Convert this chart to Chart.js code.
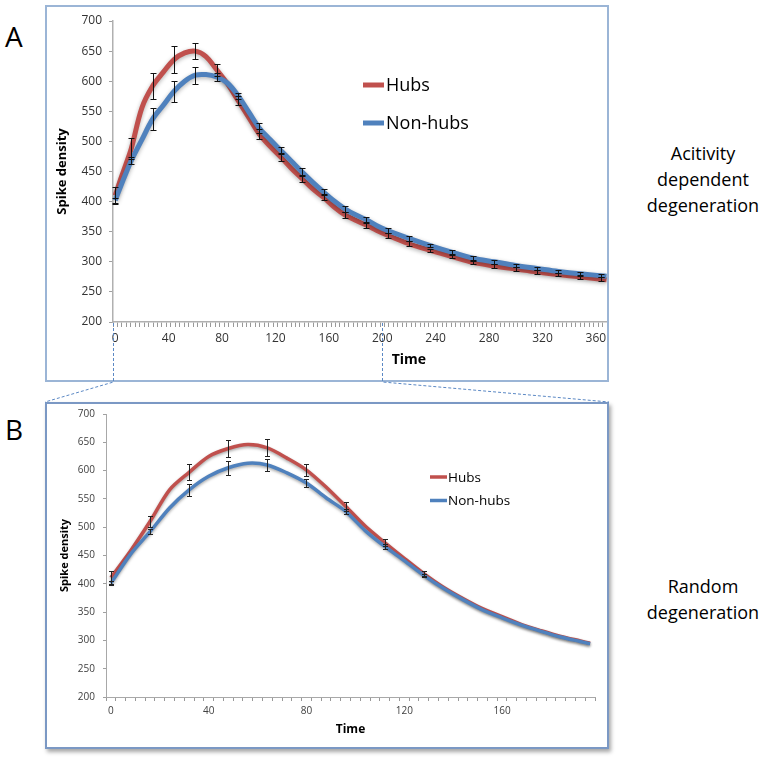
<!DOCTYPE html>
<html><head><meta charset="utf-8">
<script src="https://cdn.jsdelivr.net/npm/chart.js@4.4.1/dist/chart.umd.min.js"></script>
<style>
html,body{margin:0;padding:0;background:#fff;}
body{width:770px;height:762px;position:relative;overflow:hidden;font-family:"Open Sans",sans-serif;}
.frame{position:absolute;box-sizing:border-box;background:#fff;}
#frameA{left:45px;top:5px;width:564px;height:377px;border:2px solid #9bb5d6;}
#frameB{left:45px;top:402px;width:564px;height:347px;border:2px solid #7b98c4;box-shadow:2px 3px 4px rgba(0,0,0,0.35);}
canvas{display:block;}
.panel{position:absolute;font-size:28px;color:#000;line-height:1;}
.side{position:absolute;width:140px;text-align:center;font-size:18px;line-height:26px;color:#000;}
#overlay{position:absolute;left:0;top:0;pointer-events:none;z-index:5;}
</style></head>
<body>
<div class="panel" style="left:5px;top:22px">A</div>
<div class="panel" style="left:5px;top:415px">B</div>
<div id="frameA" class="frame"><canvas id="chartA" width="560" height="373"></canvas></div>
<div id="frameB" class="frame"><canvas id="chartB" width="560" height="343"></canvas></div>
<div class="side" style="left:633px;top:140px">Acitivity<br>dependent<br>degeneration</div>
<div class="side" style="left:633px;top:573px">Random<br>degeneration</div>
<canvas id="overlay" width="770" height="762"></canvas>
<script>
// ---------- Panel A data (activity dependent degeneration) ----------
const timeA = [0,4,8,12,20,28,36,44,52,60,68,76,84,92,100,108,116,124,132,140,148,156,164,172,180,188,196,204,220,236,252,268,284,300,316,332,348,364,368];
const hubsA = [410,437,462,488,556,592,615,636,647,650,641,619,596,568,540,512,492,474,455,438,421,407,391,378,369,361,352,344,330,319,309,299,293,288,283,279,275,271,270];
const nonHubsA = [402,425,447,468,503,537,560,583,600,610,611,607,597,576,549,522,503,485,467,449,432,416,401,388,378,370,360,352,339,327,316,306,300,294,289,284,280,277,276];
const errTimeA = [0,12,28,44,60,76,92,108,124,140,156,172,188,204,220,236,252,268,284,300,316,332,348,364];
const hubsErrA = [14,18,22,23,13,10,8,8,6,6,5,5,5,4,4,3,3,3,3,3,3,3,3,3];
const nonHubsErrA = [4,6,18,18,14,6,5,8,6,6,5,5,5,4,4,3,3,3,3,3,3,3,3,3];
const xTicksA = [0,40,80,120,160,200,240,280,320,360];
const zoomRangeA = [-2,200];

// ---------- Panel B data (random degeneration) ----------
const timeB = [0,8,16,24,32,40,48,56,64,72,80,88,96,104,112,120,128,136,144,152,160,168,176,184,192,196];
const hubsB = [411,458,510,566,597,625,639,646,640,622,601,571,537,502,473,445,418,394,374,356,342,328,317,307,299,295];
const nonHubsB = [401,452,492,534,566,590,605,613,610,596,578,552,528,494,466,441,415,392,372,354,340,327,316,306,298,294];
const errTimeB = [0,16,32,48,64,80,96,112,128];
const hubsErrB = [12,9,14,15,15,10,8,6,4];
const nonHubsErrB = [4,4,10,12,10,7,5,5,3];
const xTicksB = [0,40,80,120,160];

const yTicks = [200,250,300,350,400,450,500,550,600,650,700];
const seriesLabels = ['Hubs','Non-hubs'];
const RED = '#c0504d', BLUE = '#4f81bd';

// ---------- plugins ----------
const shadowPlugin = {
  id:'lineShadow',
  beforeDatasetDraw(chart,args,o){const c=chart.ctx;c.save();c.shadowColor=o.color;c.shadowBlur=o.blur;c.shadowOffsetX=o.dx;c.shadowOffsetY=o.dy;},
  afterDatasetDraw(chart){chart.ctx.restore();}
};
const errorBarPlugin = {
  id:'errorBars',
  afterDatasetsDraw(chart,args,o){
    const {ctx, scales:{x,y}} = chart;
    ctx.save(); ctx.strokeStyle=o.color; ctx.lineWidth=o.width;
    chart.data.datasets.forEach(ds=>{
      if(!ds.errTimes) return;
      ds.errTimes.forEach((t,i)=>{
        const pt = ds.data.find(p=>p.x===t); if(!pt) return;
        const e = ds.errValues[i];
        const px = Math.round(x.getPixelForValue(t))+0.5;
        const y1 = Math.round(y.getPixelForValue(pt.y+e))+0.5, y2 = Math.round(y.getPixelForValue(pt.y-e))+0.5;
        ctx.beginPath();
        ctx.moveTo(px,y1); ctx.lineTo(px,y2);
        ctx.moveTo(px-o.cap,y1); ctx.lineTo(px+o.cap,y1);
        ctx.moveTo(px-o.cap,y2); ctx.lineTo(px+o.cap,y2);
        ctx.stroke();
      });
    });
    ctx.restore();
  }
};
const legendPlugin = {
  id:'insideLegend',
  afterDraw(chart,args,o){
    const {ctx, chartArea:a} = chart;
    ctx.save(); ctx.font=o.font; ctx.textBaseline='middle'; ctx.fillStyle=o.textColor; ctx.lineCap='butt';
    chart.data.datasets.forEach((ds,i)=>{
      const y=a.top+o.y+i*o.gap, x0=a.left+o.x;
      ctx.strokeStyle=ds.borderColor; ctx.lineWidth=o.lineWidth;
      ctx.beginPath(); ctx.moveTo(x0,y); ctx.lineTo(x0+o.lineLen,y); ctx.stroke();
      ctx.fillText(ds.label, x0+o.lineLen+o.textGap, y+o.textDy);
    });
    ctx.restore();
  }
};
const freeTitlePlugin = {
  id:'freeTitle',
  afterDraw(chart,args,o){
    if(!o.text) return;
    const {ctx, chartArea:a} = chart;
    ctx.save(); ctx.font=o.font; ctx.fillStyle=o.color; ctx.textAlign='center'; ctx.textBaseline='middle';
    ctx.fillText(o.text, a.left+o.fx*(a.right-a.left), a.bottom+o.dy); ctx.restore();
  }
};

function pts(ts, vs){ return ts.map((t,i)=>({x:t,y:vs[i]})); }
// category-boundary tick marks (unlabelled) plus labelled ticks (major)
function categoryTicks(first, step, labels){
  return function(s){
    const arr=[];
    for(let k=0;k<1000;k++){const v=first+k*step; if(v>s.max+1e-6) break; arr.push({value:v, major:false});}
    labels.forEach(v=>arr.push({value:v, major:true}));
    arr.sort((a,b)=>a.value-b.value);
    s.ticks=arr;
  };
}
const labelOnlyMajor = function(value, index, ticks){ return ticks[index].major ? String(value) : ''; };
function minorColor(col){ return c => (c.tick && c.tick.major) ? 'rgba(0,0,0,0)' : col; }

// ---------- Chart A ----------
const chartA = new Chart(document.getElementById('chartA'), {
  type:'line',
  data:{datasets:[
    {label:seriesLabels[0], data:pts(timeA,hubsA), borderColor:RED, borderWidth:5, pointRadius:0, tension:0.35, order:2, errTimes:errTimeA, errValues:hubsErrA},
    {label:seriesLabels[1], data:pts(timeA,nonHubsA), borderColor:BLUE, borderWidth:5, pointRadius:0, tension:0.35, order:1, errTimes:errTimeA, errValues:nonHubsErrA}
  ]},
  options:{
    responsive:false, animation:false, events:[],
    layout:{padding:{top:14,left:0,right:0,bottom:0}},
    plugins:{
      legend:{display:false}, tooltip:{enabled:false},
      lineShadow:{color:'rgba(0,0,0,0.3)', blur:4, dx:0, dy:1.5},
      errorBars:{color:'#111', width:1, cap:3},
      insideLegend:{x:250, y:64, gap:38, lineLen:21, lineWidth:5, textGap:2, textDy:1, font:'18px "Open Sans"', textColor:'#000'},
      freeTitle:{text:'Time', font:'bold 14px "Open Sans"', color:'#000', fx:0.599, dy:38.5}
    },
    scales:{
      x:{type:'linear', min:-5/3, max:368.33,
        afterBuildTicks:categoryTicks(-5/3, 10/3, xTicksA),
        afterFit:s=>{s.height=58; s.paddingLeft=0; s.paddingRight=0;},
        grid:{display:true, drawOnChartArea:false, drawTicks:true, tickLength:5, color:minorColor('#999999'), tickColor:minorColor('#999999'), lineWidth:1},
        border:{display:true, color:'#b0b0b0', width:1.5},
        ticks:{padding:4, autoSkip:false, maxRotation:0, color:'#333', font:{family:'Open Sans', size:12}, callback:labelOnlyMajor}
      },
      y:{min:200, max:700,
        afterBuildTicks:s=>{s.ticks=yTicks.map(v=>({value:v}));},
        afterFit:s=>{s.width=66; s.paddingTop=0; s.paddingBottom=0;},
        grid:{display:true, drawOnChartArea:false, drawTicks:true, tickLength:4, color:'#a0a0a0'},
        border:{display:true, color:'#b0b0b0', width:1.5},
        ticks:{padding:7, color:'#333', font:{family:'Open Sans', size:12}},
        title:{display:true, text:'Spike density', color:'#000', padding:7, font:{family:'Open Sans', size:13, weight:'bold'}}
      }
    }
  },
  plugins:[shadowPlugin, errorBarPlugin, legendPlugin, freeTitlePlugin]
});

// ---------- Chart B ----------
const chartB = new Chart(document.getElementById('chartB'), {
  type:'line',
  data:{datasets:[
    {label:seriesLabels[0], data:pts(timeB,hubsB), borderColor:RED, borderWidth:3.5, pointRadius:0, tension:0.3, order:2, errTimes:errTimeB, errValues:hubsErrB},
    {label:seriesLabels[1], data:pts(timeB,nonHubsB), borderColor:BLUE, borderWidth:3.5, pointRadius:0, tension:0.3, order:1, errTimes:errTimeB, errValues:nonHubsErrB}
  ]},
  options:{
    responsive:false, animation:false, events:[],
    layout:{padding:{top:10,left:0,right:12,bottom:0}},
    plugins:{
      legend:{display:false}, tooltip:{enabled:false},
      lineShadow:{color:'rgba(0,0,0,0.35)', blur:3, dx:0, dy:1.5},
      errorBars:{color:'#222', width:1, cap:2.5},
      insideLegend:{x:324, y:63, gap:23.5, lineLen:17, lineWidth:3.5, textGap:1, textDy:1, font:'13.5px "Open Sans"', textColor:'#000'}
    },
    scales:{
      x:{type:'linear', min:-2, max:198,
        afterBuildTicks:categoryTicks(-2, 4, xTicksB),
        afterFit:s=>{s.height=50; s.paddingLeft=0; s.paddingRight=0;},
        grid:{display:true, drawOnChartArea:false, drawTicks:true, tickLength:4, color:minorColor('#999999'), tickColor:minorColor('#999999'), lineWidth:1},
        border:{display:true, color:'#a8a8a8', width:1},
        ticks:{padding:4, autoSkip:false, maxRotation:0, color:'#404040', font:{family:'Open Sans', size:10}, callback:labelOnlyMajor},
        title:{display:true, text:'Time', color:'#000', padding:10, font:{family:'Open Sans', size:12, weight:'bold'}}
      },
      y:{min:200, max:700,
        afterBuildTicks:s=>{s.ticks=yTicks.map(v=>({value:v}));},
        afterFit:s=>{s.width=59; s.paddingTop=0; s.paddingBottom=0;},
        grid:{display:true, drawOnChartArea:false, drawTicks:true, tickLength:3, color:'#a0a0a0'},
        border:{display:true, color:'#a8a8a8', width:1},
        ticks:{padding:8, color:'#404040', font:{family:'Open Sans', size:10}},
        title:{display:true, text:'Spike density', color:'#000', padding:11, font:{family:'Open Sans', size:11, weight:'bold'}}
      }
    }
  },
  plugins:[shadowPlugin, errorBarPlugin, legendPlugin]
});

// ---------- connector lines between panels ----------
(function(){
  const ov=document.getElementById('overlay').getContext('2d');
  const frA=document.getElementById('frameA'), frB=document.getElementById('frameB');
  const ox=frA.offsetLeft+frA.clientLeft, oy=frA.offsetTop+frA.clientTop;
  const xs=zoomRangeA.map(v=>Math.round(chartA.scales.x.getPixelForValue(v)+ox)+0.5);
  const yAxis=chartA.chartArea.bottom+oy+1;
  const yBot=frA.offsetTop+frA.offsetHeight;
  const bTop=frB.offsetTop, bL=frB.offsetLeft, bR=frB.offsetLeft+frB.offsetWidth;
  ov.setLineDash([3,2]); ov.strokeStyle='#5b88c4'; ov.lineWidth=1;
  ov.beginPath();
  ov.moveTo(xs[0],yAxis); ov.lineTo(xs[0],yBot); ov.lineTo(bL,bTop);
  ov.moveTo(xs[1],yAxis); ov.lineTo(xs[1],yBot); ov.lineTo(bR,bTop);
  ov.stroke();
})();
</script>
</body></html>
